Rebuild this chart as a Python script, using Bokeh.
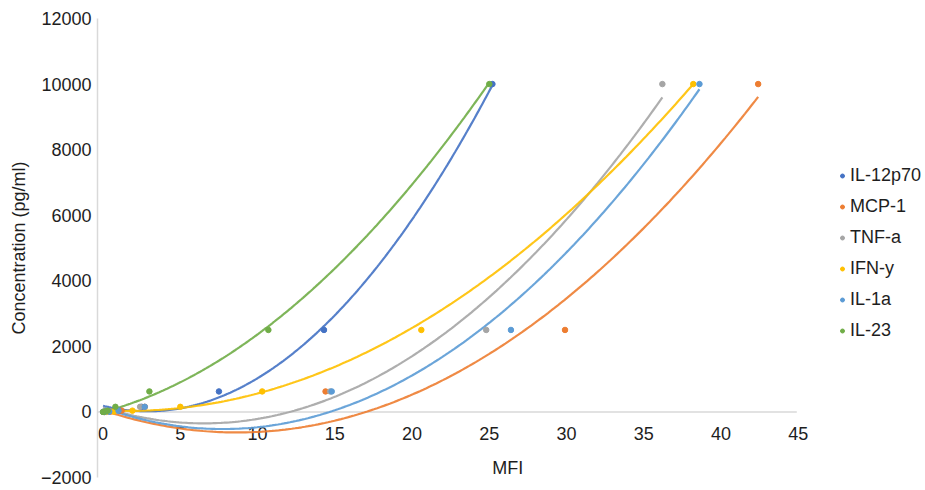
import numpy as np
from bokeh.plotting import figure
from bokeh.models import Range1d, FixedTicker, Legend, LegendItem, Label
from bokeh.core.properties import value
from bokeh.embed import file_html
from bokeh.resources import INLINE

# ---- data ----
concentration = [10000, 2500, 625, 156, 39, 10, 0]
series_names = ["IL-12p70", "MCP-1", "TNF-a", "IFN-y", "IL-1a", "IL-23"]
il12p70 = [25.3, 14.4, 7.6, 2.6, 1.2, 0.5, 0.1]
mcp1 = [42.5, 30.0, 14.5, 2.8, 1.3, 0.6, 0.2]
tnfa = [36.3, 24.9, 14.8, 2.5, 1.0, 0.4, 0.1]
ifny = [38.3, 20.7, 10.4, 5.1, 2.0, 0.8, 0.3]
il1a = [38.7, 26.5, 14.9, 2.8, 1.1, 0.5, 0.2]
il23 = [25.1, 10.8, 3.1, 0.9, 0.4, 0.2, 0.1]
series_mfi = [il12p70, mcp1, tnfa, ifny, il1a, il23]

# polynomial (order 2) trendline coefficients [a, b, c]
trend_il12p70 = [20.0, -120.0, 200.0]
trend_mcp1 = [9.0, -158.0, 68.0]
trend_tnfa = [11.3, -150.0, 150.0]
trend_ifny = [7.41, -24.0, 50.0]
trend_il1a = [10.89, -171.0, 150.0]
trend_il23 = [11.0, 125.0, -20.0]
series_trend = [trend_il12p70, trend_mcp1, trend_tnfa, trend_ifny, trend_il1a, trend_il23]

colors = ["#4472C4", "#ED7D31", "#A5A5A5", "#FFC000", "#5B9BD5", "#70AD47"]
x_ticks = [0, 5, 10, 15, 20, 25, 30, 35, 40, 45]
y_ticks = [-2000, 0, 2000, 4000, 6000, 8000, 10000, 12000]

FONT = "Liberation Sans"
FS = "18px"
TXT = "#1e1e1e"
AXIS_C = "#d9d9d9"

p = figure(width=925, height=490, x_range=Range1d(-0.259, 53.33), y_range=Range1d(-2000, 12000),
           output_backend="svg", toolbar_location=None,
           min_border_left=97, min_border_right=0, min_border_top=18, min_border_bottom=13)
p.outline_line_color = None
p.grid.visible = False
p.xaxis.visible = False

ya = p.yaxis[0]
ya.ticker = FixedTicker(ticks=y_ticks)
ya.major_tick_line_color = None
ya.minor_tick_line_color = None
ya.axis_line_color = AXIS_C
ya.axis_line_width = 1.5
ya.major_label_text_font = FONT
ya.major_label_text_font_size = FS
ya.major_label_text_color = TXT
ya.major_label_standoff = 0
ya.axis_label = "Concentration (pg/ml)"
ya.axis_label_text_font = FONT
ya.axis_label_text_font_size = FS
ya.axis_label_text_font_style = "normal"
ya.axis_label_text_color = TXT
ya.axis_label_standoff = 9

# horizontal axis line at y = 0, from the left edge to the last x tick
p.segment(x0=[p.x_range.start], y0=[0], x1=[x_ticks[-1]], y1=[0],
          line_color=AXIS_C, line_width=1.5)

# x tick labels under the zero line
p.text(x=x_ticks, y=[0] * len(x_ticks), text=[str(t) for t in x_ticks],
       text_font=value(FONT), text_font_size=FS, text_color=TXT,
       text_align="center", text_baseline="middle", x_offset=1.5, y_offset=22)

p.add_layout(Label(x=26.3, y=-1700, text="MFI", text_font=FONT, text_font_size=FS,
                   text_color=TXT, text_align="center", text_baseline="middle"))

items = []
for name, xs, coef, c in zip(series_names, series_mfi, series_trend, colors):
    xx = np.linspace(min(xs), max(xs), 200)
    p.line(xx, np.polyval(coef, xx), line_color=c, line_width=2.2, line_alpha=0.9)
for name, xs, coef, c in zip(series_names, series_mfi, series_trend, colors):
    r = p.scatter(xs, concentration, size=5.5, color=c)
    items.append(LegendItem(label=name, renderers=[r]))

legend = Legend(items=items, location=(740, 136), orientation="vertical",
                glyph_width=10, glyph_height=21, label_height=21, spacing=10,
                label_standoff=3, padding=0, margin=0,
                label_text_font=FONT, label_text_font_size="18px", label_text_color=TXT,
                border_line_color=None, background_fill_alpha=0)
p.add_layout(legend)

open("out.html", "w").write(file_html(p, INLINE))
